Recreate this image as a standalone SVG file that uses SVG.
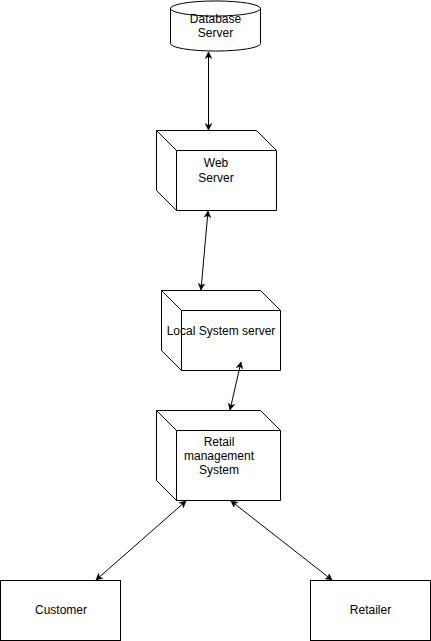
<svg xmlns="http://www.w3.org/2000/svg" width="431" height="641" viewBox="0 0 431 641">
<defs>
<marker id="arr" viewBox="0 0 10 10" refX="9.5" refY="5" markerWidth="7" markerHeight="7" markerUnits="userSpaceOnUse" orient="auto-start-reverse">
<path d="M0,0 L10,5 L0,10 L3,5 Z" fill="#000" stroke="#000" stroke-width="0.5"/>
</marker>
</defs>
<style>
.s{fill:#fff;stroke:#000;stroke-width:1}
.l{fill:none;stroke:#000;stroke-width:1}
.t{font-family:"Liberation Sans",Arial,sans-serif;font-size:12px;fill:#000;text-anchor:middle}
.c{fill:none;stroke:#000;stroke-width:1;marker-start:url(#arr);marker-end:url(#arr)}
</style>
<rect width="431" height="641" fill="#fff"/>
<g id="db">
<path class="s" d="M170.5,8.5 A44.75,7.5 0 0 1 260.5,8.5 L260.5,43.5 A44.75,7.5 0 0 1 170.5,43.5 Z"/>
<path class="l" d="M170.5,8.5 A44.75,7.5 0 0 0 260.5,8.5"/>
<text class="t" x="215.5" y="23">Database</text>
<text class="t" x="215.5" y="37">Server</text>
</g>
<g id="web">
<path class="s" d="M156.5,130.5 L256.5,130.5 L276.5,150.5 L276.5,210.5 L176.5,210.5 L156.5,190.5 Z"/>
<path class="l" d="M156.5,130.5 L176.5,150.5 L276.5,150.5 M176.5,150.5 L176.5,210.5"/>
<text class="t" x="216" y="167">Web</text>
<text class="t" x="216" y="182">Server</text>
</g>
<g id="local">
<path class="s" d="M161.5,290.5 L260.5,290.5 L280.5,310.5 L280.5,370.5 L181.5,370.5 L161.5,350.5 Z"/>
<path class="l" d="M161.5,290.5 L181.5,310.5 L280.5,310.5 M181.5,310.5 L181.5,370.5"/>
<text class="t" x="221" y="335">Local System server</text>
</g>
<g id="retail">
<path class="s" d="M156.5,410.5 L260.5,410.5 L280.5,430.5 L280.5,500.5 L176.5,500.5 L156.5,480.5 Z"/>
<path class="l" d="M156.5,410.5 L176.5,430.5 L280.5,430.5 M176.5,430.5 L176.5,500.5"/>
<text class="t" x="219" y="446">Retail</text>
<text class="t" x="219" y="460">management</text>
<text class="t" x="219" y="474">System</text>
</g>
<g id="customer">
<rect class="s" x="0.5" y="580.5" width="120" height="60"/>
<text class="t" x="61" y="614">Customer</text>
</g>
<g id="retailer">
<rect class="s" x="310.5" y="580.5" width="120" height="60"/>
<text class="t" x="370.5" y="614">Retailer</text>
</g>
<g id="connectors">
<path class="c" d="M208.5,52 L208.5,130"/>
<path class="c" d="M208,211 L201,290"/>
<path class="c" d="M241,362 L230,410"/>
<path class="c" d="M186,501 L96,580"/>
<path class="c" d="M231,501 L332,580"/>
</g>
</svg>
